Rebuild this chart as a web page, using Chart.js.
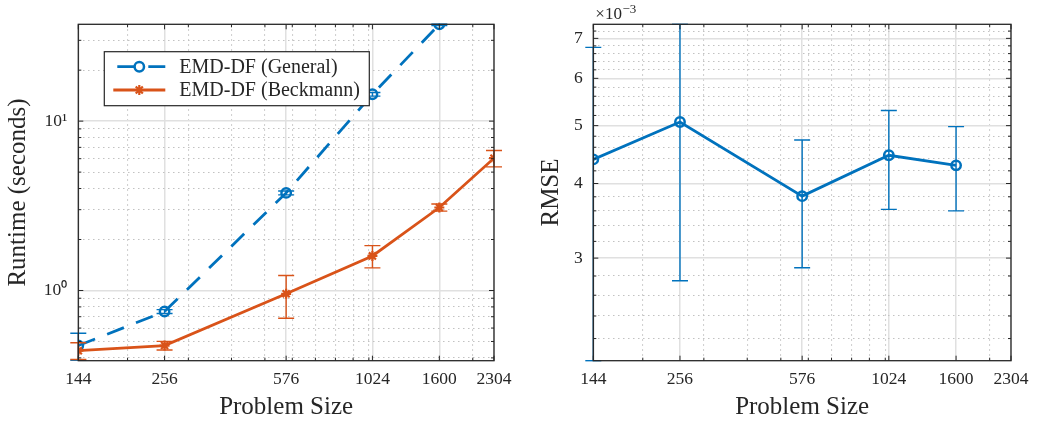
<!DOCTYPE html>
<html>
<head>
<meta charset="utf-8">
<script src="https://cdn.jsdelivr.net/npm/chart.js@4.4.1/dist/chart.umd.min.js"></script>
<style>
  html, body { margin: 0; padding: 0; background: #fff; }
  body { width: 1037px; height: 423px; position: relative; overflow: hidden; }
  .panel { position: absolute; top: 0; height: 423px; }
  #left { left: 0; width: 520px; }
  #right { left: 520px; width: 517px; }
</style>
</head>
<body>
<div class="panel" id="left"><canvas id="runtimeCanvas" width="520" height="423"></canvas></div>
<div class="panel" id="right"><canvas id="rmseCanvas" width="517" height="423"></canvas></div>
<script>
// problem sizes (x axis, log scale)
const sizes = [144, 256, 576, 1024, 1600, 2304];
const xTickLabels = ["144", "256", "576", "1024", "1600", "2304"];
const xMinor = [200, 300, 400, 500, 600, 700, 800, 900, 1000, 2000];

// runtime in seconds, +/- error
const generalTime = [0.473, 0.751, 3.77, 14.4, 37.3];
const generalErr = [0.086, 0.02, 0.1, 0.35, 0.6];
const beckmannTime = [0.441, 0.473, 0.956, 1.6, 3.09, 6.04];
const beckmannErr = [0.05, 0.028, 0.27, 0.24, 0.15, 0.67];

// RMSE, +/- error
const rmseSizes = [144, 256, 576, 1024, 1600];
const rmse = [4.39e-3, 5.07e-3, 3.81e-3, 4.46e-3, 4.29e-3];
const rmseErr = [2.37e-3, 2.32e-3, 0.92e-3, 0.84e-3, 0.69e-3];

const runtimeMajor = [1, 10];
const runtimeTickLabels = ["10⁰", "10¹"];
const runtimeMinor = [0.4, 0.5, 0.6, 0.7, 0.8, 0.9, 2, 3, 4, 5, 6, 7, 8, 9, 20, 30];
const rmseMajor = [3e-3, 4e-3, 5e-3, 6e-3, 7e-3];
const rmseTickLabels = ["3", "4", "5", "6", "7"];
const rmseMinor = [2.2, 2.4, 2.6, 2.8, 3.2, 3.4, 3.6, 3.8, 4.2, 4.4, 4.6, 4.8,
  5.2, 5.4, 5.6, 5.8, 6.2, 6.4, 6.6, 6.8, 7.2].map(v => v * 1e-3);

const BLUE = "#0072BD";
const ORANGE = "#D95319";
const AXIS = "#262626";
const SERIF = "'Liberation Serif', 'Times New Roman', serif";

Chart.defaults.font.family = SERIF;
Chart.defaults.color = AXIS;
Chart.defaults.animation = false;

function setTicks(major, minor) {
  return (scale) => {
    const t = major.map(v => ({ value: v, major: true }))
      .concat(minor.map(v => ({ value: v, major: false })));
    t.sort((a, b) => a.value - b.value);
    scale.ticks = t;
  };
}

function labelFor(major, labels) {
  return (value, i, ticks) => {
    const k = major.indexOf(value);
    return k >= 0 ? labels[k] : "";
  };
}

const gridOpts = {
  drawTicks: false,
  lineWidth: (c) => (c.tick && c.tick.major ? 1.5 : 1.1),
  color: (c) => (c.tick && c.tick.major ? "#e0e0e0" : "#c2c2c2"),
};
const borderOpts = {
  display: false,
  dash: (c) => (c.tick && !c.tick.major ? [1.5, 3.5] : []),
};

function xScale(height) {
  return {
    type: "logarithmic",
    position: "bottom",
    min: 144,
    max: 2304,
    bounds: "data",
    afterBuildTicks: setTicks(sizes, xMinor),
    afterFit: (s) => { s.height = height; },
    grid: gridOpts,
    border: borderOpts,
    ticks: {
      autoSkip: false,
      maxRotation: 0,
      padding: 8.5,
      font: { size: 17.5 },
      callback: labelFor(sizes, xTickLabels),
    },
    title: {
      display: true,
      text: "Problem Size",
      font: { size: 25 },
      padding: { top: 0, bottom: 1 },
    },
  };
}

// error bars drawn through the chart's own scales
const errorBars = {
  id: "errorBars",
  beforeDatasetDraw(chart, args) {
    const ds = chart.data.datasets[args.index];
    if (!ds.errors) return;
    const { ctx, chartArea: a } = chart;
    const x = chart.scales.x, y = chart.scales.y;
    ctx.save();
    ctx.beginPath();
    ctx.rect(a.left - 12, a.top - 1, a.right - a.left + 24, a.bottom - a.top + 2);
    ctx.clip();
    ctx.strokeStyle = ds.borderColor;
    ctx.lineWidth = 1.4;
    ctx.setLineDash([]);
    ds.data.forEach((p, i) => {
      const e = ds.errors[i];
      const px = x.getPixelForValue(p.x);
      const lo = p.y - e > 0 ? y.getPixelForValue(p.y - e) : a.bottom + 20;
      const hi = y.getPixelForValue(p.y + e);
      ctx.beginPath();
      ctx.moveTo(px, lo); ctx.lineTo(px, hi);
      ctx.moveTo(px - 8, lo); ctx.lineTo(px + 8, lo);
      ctx.moveTo(px - 8, hi); ctx.lineTo(px + 8, hi);
      ctx.stroke();
    });
    ctx.restore();
  },
};

// box around the axes with inward tick marks on all four sides
const axesBox = {
  id: "axesBox",
  afterDraw(chart) {
    const { ctx, chartArea: a } = chart;
    ctx.save();
    ctx.strokeStyle = AXIS;
    ctx.lineWidth = 1;
    ctx.setLineDash([]);
    ["x", "y"].forEach((id) => {
      const s = chart.scales[id];
      s.ticks.forEach((t) => {
        const len = t.major ? 5 : 3;
        const p = s.getPixelForValue(t.value);
        ctx.beginPath();
        if (id === "x") {
          ctx.moveTo(p, a.bottom); ctx.lineTo(p, a.bottom - len);
          ctx.moveTo(p, a.top); ctx.lineTo(p, a.top + len);
        } else {
          ctx.moveTo(a.left, p); ctx.lineTo(a.left + len, p);
          ctx.moveTo(a.right, p); ctx.lineTo(a.right - len, p);
        }
        ctx.stroke();
      });
    });
    ctx.lineWidth = 1.3;
    ctx.strokeRect(a.left, a.top, a.right - a.left, a.bottom - a.top);
    ctx.restore();
  },
};

// MATLAB-like legend box inside the axes
const boxLegend = {
  id: "boxLegend",
  afterDraw(chart, args, opts) {
    if (!opts.show) return;
    const { ctx } = chart;
    ctx.save();
    ctx.fillStyle = "#fff";
    ctx.fillRect(opts.x, opts.y, opts.w, opts.h);
    ctx.strokeStyle = AXIS;
    ctx.lineWidth = 1.2;
    ctx.strokeRect(opts.x, opts.y, opts.w, opts.h);
    ctx.font = "20px " + SERIF;
    ctx.textBaseline = "middle";
    chart.data.datasets.forEach((ds, i) => {
      const yy = opts.y + opts.rowTop + i * opts.rowGap;
      const x0 = opts.x + 9, x1 = opts.x + 61, xm = (x0 + x1) / 2;
      ctx.strokeStyle = ds.borderColor;
      ctx.lineWidth = ds.borderWidth;
      ctx.setLineDash(ds.borderDash || []);
      ctx.lineDashOffset = ds.borderDash ? -4 : 0;
      ctx.beginPath();
      ctx.moveTo(x0, yy); ctx.lineTo(x1, yy);
      ctx.stroke();
      ctx.setLineDash([]);
      ctx.fillStyle = "#fff";
      ctx.lineWidth = ds.pointBorderWidth;
      Chart.helpers.drawPoint(ctx, {
        pointStyle: ds.pointStyle, radius: ds.pointRadius,
        borderWidth: ds.pointBorderWidth, rotation: 0,
      }, xm, yy);
      ctx.fillStyle = AXIS;
      ctx.fillText(ds.label, opts.x + 75, yy + 1);
    });
    ctx.restore();
  },
};

// x10^-3 exponent label
const exponentLabel = {
  id: "exponentLabel",
  afterDraw(chart, args, opts) {
    if (!opts.show) return;
    const { ctx, chartArea: a } = chart;
    ctx.save();
    ctx.fillStyle = AXIS;
    ctx.textBaseline = "alphabetic";
    ctx.font = "17px " + SERIF;
    const base = "×10";
    ctx.fillText(base, a.left + 2, 18.5);
    const w = ctx.measureText(base).width;
    ctx.font = "13px " + SERIF;
    ctx.fillText("−3", a.left + 2 + w + 0.5, 12.5);
    ctx.restore();
  },
};

const runtimeChart = new Chart(document.getElementById("runtimeCanvas"), {
  type: "line",
  data: {
    datasets: [
      {
        label: "EMD-DF (General)",
        data: generalTime.map((v, i) => ({ x: sizes[i], y: v })),
        errors: generalErr,
        borderColor: BLUE,
        borderWidth: 2.8,
        borderDash: [18, 13],
        pointStyle: "circle",
        pointRadius: 4.7,
        pointBorderWidth: 2.5,
        pointBackgroundColor: "rgba(0,0,0,0)",
        pointBorderColor: BLUE,
        order: 2,
      },
      {
        label: "EMD-DF (Beckmann)",
        data: beckmannTime.map((v, i) => ({ x: sizes[i], y: v })),
        errors: beckmannErr,
        borderColor: ORANGE,
        borderWidth: 2.8,
        pointStyle: "star",
        pointRadius: 5,
        pointBorderWidth: 2.2,
        pointBackgroundColor: ORANGE,
        pointBorderColor: ORANGE,
        order: 1,
      },
    ],
  },
  options: {
    responsive: false,
    devicePixelRatio: 1,
    layout: { padding: { top: 24.3, right: 21, left: 0, bottom: 0 } },
    plugins: {
      legend: { display: false },
      tooltip: { enabled: false },
      boxLegend: { show: true, x: 104.3, y: 51.7, w: 265, h: 54, rowTop: 15, rowGap: 23.3 },
      exponentLabel: { show: false },
    },
    scales: {
      x: xScale(62.3),
      y: {
        type: "logarithmic",
        position: "left",
        min: 0.385,
        max: 37.3,
        bounds: "data",
        afterBuildTicks: setTicks(runtimeMajor, runtimeMinor),
        afterFit: (s) => { s.width = 78.3; },
        grid: gridOpts,
        border: borderOpts,
        ticks: {
          autoSkip: false,
          padding: 11,
          font: { size: 17.5 },
          callback: labelFor(runtimeMajor, runtimeTickLabels),
        },
        title: {
          display: true,
          text: "Runtime (seconds)",
          font: { size: 25 },
          padding: { top: 3.6, bottom: 0 },
        },
      },
    },
  },
  plugins: [errorBars, axesBox, boxLegend, exponentLabel],
});

const rmseChart = new Chart(document.getElementById("rmseCanvas"), {
  type: "line",
  data: {
    datasets: [
      {
        label: "RMSE",
        data: rmse.map((v, i) => ({ x: rmseSizes[i], y: v })),
        errors: rmseErr,
        borderColor: BLUE,
        borderWidth: 2.8,
        pointStyle: "circle",
        pointRadius: 4.7,
        pointBorderWidth: 2.5,
        pointBackgroundColor: "rgba(0,0,0,0)",
        pointBorderColor: BLUE,
      },
    ],
  },
  options: {
    responsive: false,
    devicePixelRatio: 1,
    layout: { padding: { top: 24.3, right: 23.7, left: 0, bottom: 0 } },
    plugins: {
      legend: { display: false },
      tooltip: { enabled: false },
      boxLegend: { show: false },
      exponentLabel: { show: true },
    },
    scales: {
      x: xScale(62.3),
      y: {
        type: "logarithmic",
        position: "left",
        min: 2.02e-3,
        max: 7.39e-3,
        bounds: "data",
        afterBuildTicks: setTicks(rmseMajor, rmseMinor),
        afterFit: (s) => { s.width = 73.3; },
        grid: gridOpts,
        border: borderOpts,
        ticks: {
          autoSkip: false,
          padding: 10.6,
          font: { size: 17.5 },
          callback: labelFor(rmseMajor, rmseTickLabels),
        },
        title: {
          display: true,
          text: "RMSE",
          font: { size: 25 },
          padding: { top: 16, bottom: 0 },
        },
      },
    },
  },
  plugins: [errorBars, axesBox, boxLegend, exponentLabel],
});
</script>
</body>
</html>
